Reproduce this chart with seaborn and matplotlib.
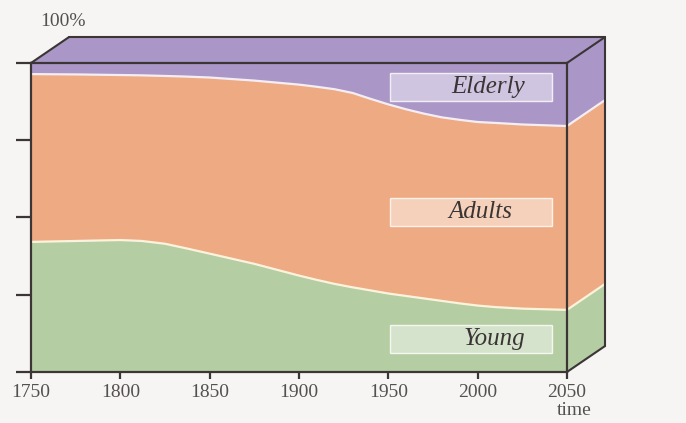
import matplotlib
matplotlib.use("Agg")
import matplotlib.pyplot as plt
import seaborn as sns
import pandas as pd

# values (share of population, %)
years = [1750, 1775, 1800, 1812, 1825, 1837, 1850, 1875, 1900, 1910, 1920, 1930,
         1940, 1950, 1960, 1970, 1980, 1990, 2000, 2010, 2025, 2050]
young = [42.1, 42.4, 42.7, 42.4, 41.5, 40.0, 38.3, 35.0, 31.2, 29.8, 28.5, 27.4,
         26.4, 25.4, 24.6, 23.8, 23.0, 22.2, 21.5, 21.0, 20.5, 20.1]
elderly = [3.6, 3.7, 3.9, 4.0, 4.2, 4.4, 4.7, 5.7, 7.0, 7.7, 8.5, 9.7,
           11.6, 13.4, 15.0, 16.4, 17.6, 18.4, 19.1, 19.4, 19.9, 20.4]
adults = [round(100 - y - e, 1) for y, e in zip(young, elderly)]

group_names = ["Young", "Adults", "Elderly"]
group_colors = ["#b5cda3", "#eeaa82", "#aa97c7"]
xticks = [1750, 1800, 1850, 1900, 1950, 2000, 2050]

df = pd.DataFrame({"year": years, "Young": young, "Adults": adults, "Elderly": elderly})
df["young_top"] = df["Young"]
df["adult_top"] = df["Young"] + df["Adults"]

sns.set_theme(style="white")
plt.rcParams["font.family"] = ["Liberation Serif", "DejaVu Serif"]

bg = "#f6f5f3"
edge = "#3b3536"
fig = plt.figure(figsize=(6.86, 4.23), dpi=100, facecolor=bg)
ax = fig.add_axes([0.0452, 0.1206, 0.7813, 0.7305])
ax.set_facecolor(bg)

ax.stackplot(df["year"], df["Young"], df["Adults"], df["Elderly"],
             colors=group_colors, linewidth=0)
sns.lineplot(data=df, x="year", y="young_top", ax=ax, color="#fbf3dc", lw=1.6)
sns.lineplot(data=df, x="year", y="adult_top", ax=ax, color="#f4eef4", lw=1.6)

ax.set_xlim(1750, 2050)
ax.set_ylim(0, 100)

# 3d extrusion: offset of the back face
dx, dy = 21.3, 8.4
x1 = 2050
# top face
ax.fill([1750, x1, x1 + dx, 1750 + dx], [100, 100, 100 + dy, 100 + dy],
        color=group_colors[2], clip_on=False, lw=0, zorder=1)
# right face, one band per group
bounds = [0, young[-1], young[-1] + adults[-1], 100]
for i in range(3):
    lo, hi = bounds[i], bounds[i + 1]
    ax.fill([x1, x1 + dx, x1 + dx, x1], [lo, lo + dy, hi + dy, hi],
            color=group_colors[i], clip_on=False, lw=0, zorder=1)
ax.plot([x1, x1 + dx], [bounds[1], bounds[1] + dy], color="#fbf3dc", lw=1.6, clip_on=False)
ax.plot([x1, x1 + dx], [bounds[2], bounds[2] + dy], color="#f4eef4", lw=1.6, clip_on=False)

edges = [
    ([1750, 1750 + dx], [100, 100 + dy]),
    ([1750 + dx, x1 + dx], [100 + dy, 100 + dy]),
    ([x1, x1 + dx], [100, 100 + dy]),
    ([x1 + dx, x1 + dx], [100 + dy, dy]),
    ([x1, x1 + dx], [0, dy]),
]
for xs, ys in edges:
    ax.plot(xs, ys, color=edge, lw=1.5, clip_on=False, zorder=5,
            solid_capstyle="round")

for s in ax.spines.values():
    s.set_color(edge)
    s.set_linewidth(1.6)
    s.set_zorder(6)

ax.set_xticks(xticks)
ax.set_xticklabels([str(t) for t in xticks])
ax.set_yticks([0, 25, 50, 75, 100])
ax.set_yticklabels([])
ax.tick_params(axis="y", direction="out", length=10.5, width=1.6, color=edge, left=True)
ax.tick_params(axis="x", direction="out", length=5, width=1.6, color=edge,
               bottom=True, labelsize=14, labelcolor="#555050", pad=4)
ax.set_xlabel("")
ax.set_ylabel("")

# labels inside light boxes
boxes = {"Elderly": (87.7, 96.8, 2005.8),
         "Adults": (47.2, 56.3, 2001.3),
         "Young": (6.1, 15.2, 2009.1)}
for name, (lo, hi, xc) in boxes.items():
    ax.add_patch(plt.Rectangle((1951, lo), 2041.6 - 1951, hi - lo,
                               facecolor=(1, 1, 1, 0.45), edgecolor=(1, 1, 1, 0.8),
                               lw=1, zorder=3))
    ax.text(xc, (lo + hi) / 2, name, ha="center", va="center", fontsize=18,
            style="italic", color="#3a3535", zorder=4)

fig.text(40 / 686, 1 - 21 / 423, "100%", ha="left", va="center",
         fontsize=14, color="#555050")
fig.text(574 / 686, 1 - 410 / 423, "time", ha="center", va="center",
         fontsize=14, color="#555050")

fig.savefig("out.png", dpi=100, facecolor=bg)
